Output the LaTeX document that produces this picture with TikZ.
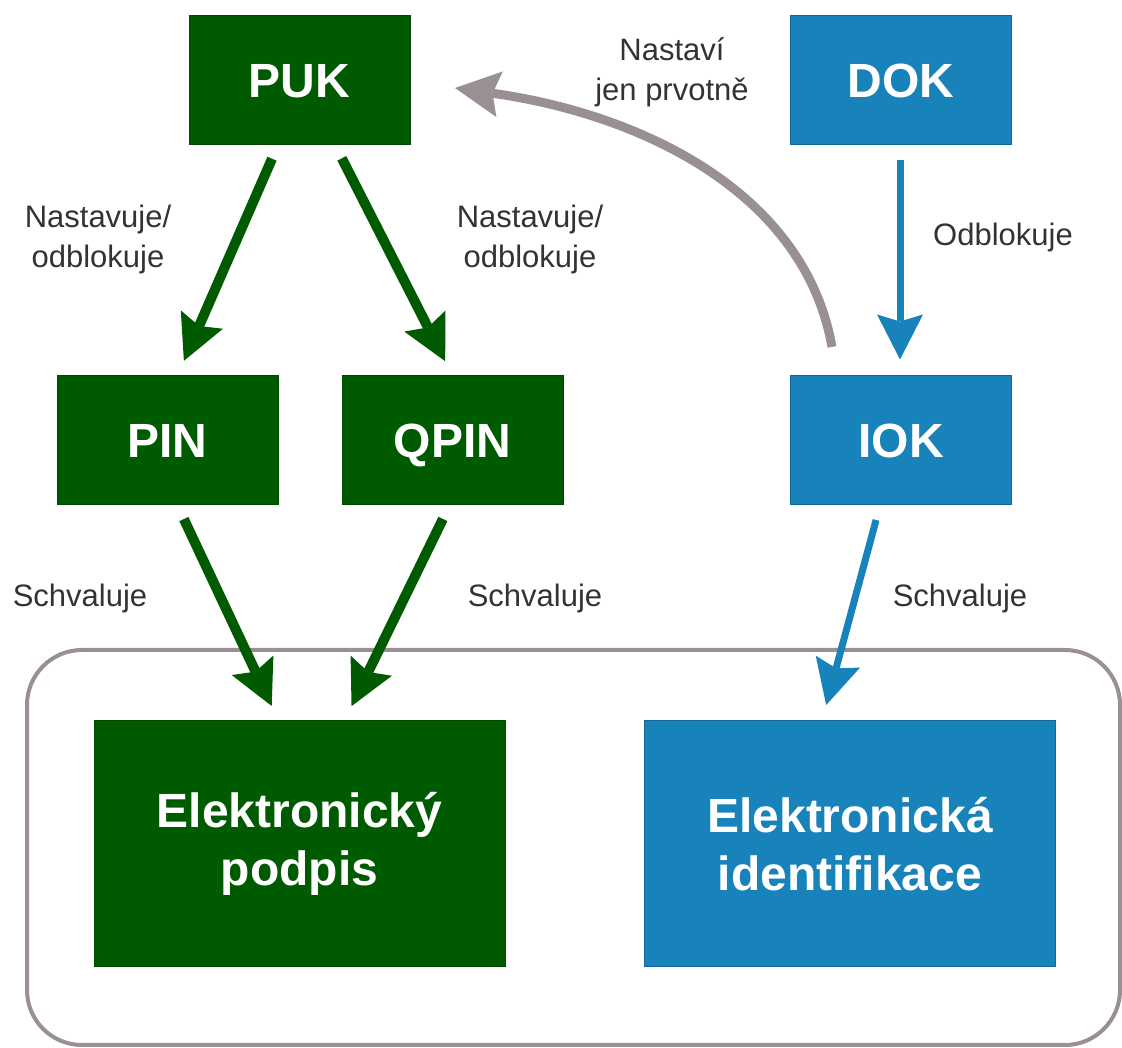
\documentclass[tikz,border=0pt]{standalone}
\usepackage{fontspec}
\setmainfont{Liberation Sans}
\usetikzlibrary{arrows.meta}
\definecolor{keygreen}{HTML}{005A00}
\definecolor{keyblue}{HTML}{1882BA}
\definecolor{curvegray}{HTML}{9A9093}
\definecolor{textgray}{HTML}{333333}
\tikzstyle{greenbox} = [rectangle, fill=keygreen, draw=keygreen!80!black, line width=1pt, text=white, align=center, font=\bfseries\fontsize{48}{58}\selectfont]
\tikzstyle{bluebox} = [rectangle, fill=keyblue, draw=keyblue!80!black, line width=1pt, text=white, align=center, font=\bfseries\fontsize{48}{58}\selectfont]
\tikzstyle{keybox} = [minimum width=221pt, minimum height=129pt, text height=35pt, text depth=0pt]
\tikzstyle{resultbox} = [minimum width=411pt, minimum height=246pt]
\tikzstyle{edgetext} = [align=center, text=textgray, font=\fontsize{31}{40}\selectfont]
\tikzstyle{bigtip} = [-{Stealth[length=45pt, width=46pt, inset=7pt, line width=0pt]}]
\tikzstyle{greenarrow} = [bigtip, line width=10pt, draw=keygreen, shorten <=15pt, shorten >=16pt]
\tikzstyle{bluearrow} = [bigtip, line width=7pt, draw=keyblue, shorten <=15pt, shorten >=16pt]
\tikzstyle{grayarrow} = [bigtip, line width=9pt, draw=curvegray]
\tikzstyle{frame} = [rounded corners=55pt, line width=4pt, draw=curvegray]

\begin{document}
\begin{tikzpicture}[x=1pt, y=1pt]
    \useasboundingbox (0,0) rectangle (1122,1048);
    \draw [frame] (27,3) rectangle (1120,398);

    \node (puk) [greenbox, keybox] at (299.5,968) {PUK};
    \node (dok) [bluebox, keybox] at (901,968) {DOK};
    \node (pin) [greenbox, keybox] at (167.5,607.5) {PIN};
    \node (qpin) [greenbox, keybox] at (452.5,607.5) {QPIN};
    \node (iok) [bluebox, keybox] at (901,607.5) {IOK};
    \node (podpis) [greenbox, resultbox] at (299.5,204) {Elektronický\\podpis};
    \node (ident) [bluebox, resultbox] at (850,204) {Elektronická\\identifikace};

    \draw [greenarrow] ([xshift=-21.5pt]puk.south) -- ([xshift=10pt]pin.north);
    \draw [greenarrow] ([xshift=35.5pt]puk.south) -- ([xshift=0pt]qpin.north);
    \draw [greenarrow] ([xshift=10pt]pin.south) -- ([xshift=-21pt]podpis.north);
    \draw [greenarrow] ([xshift=-3pt]qpin.south) -- ([xshift=45pt]podpis.north);
    \draw [bluearrow] ([xshift=-1pt]dok.south) -- ([xshift=-1pt]iok.north);
    \draw [bluearrow] ([xshift=-21pt]iok.south) -- ([xshift=-28pt]ident.north);
    \draw [grayarrow, shorten <=29pt] ([xshift=-64pt]iok.north) to[out=100, in=-8] ([xshift=44.5pt, yshift=-8pt]puk.east);

    \node (setpin) [edgetext] at (98,808) {Nastavuje/\\odblokuje};
    \node (setqpin) [edgetext] at (530,808) {Nastavuje/\\odblokuje};
    \node (unblock) [edgetext] at (1003,810) {Odblokuje};
    \node (initial) [edgetext] at (672,976) {Nastaví\\jen prvotně};
    \node (okpin) [edgetext] at (80,450) {Schvaluje};
    \node (okqpin) [edgetext] at (535,450) {Schvaluje};
    \node (okiok) [edgetext] at (960,450) {Schvaluje};
\end{tikzpicture}
\end{document}
